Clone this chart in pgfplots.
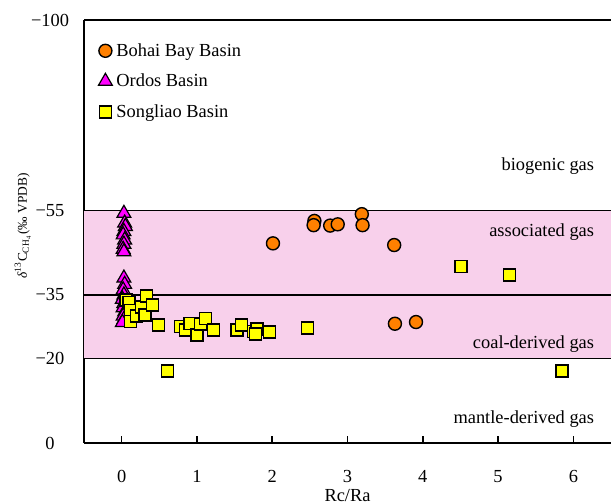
\documentclass[border=0pt]{standalone}
\usepackage{fontspec}
\setmainfont{Liberation Serif}
\usepackage{pgfplots}
\pgfplotsset{compat=1.18}
\definecolor{bandpink}{RGB}{248,208,235}
\definecolor{borange}{RGB}{255,128,0}
\definecolor{omag}{RGB}{255,0,255}
\definecolor{syellow}{RGB}{255,255,0}
\begin{document}
\begin{tikzpicture}[font=\fontsize{9.2}{11}\selectfont]
\begin{axis}[
  scale only axis, width=263.5pt, height=211.5pt,
  xmin=-0.5, xmax=6.5, ymin=-100, ymax=0, y dir=reverse,
  axis x line*=box, axis y line*=left,
  axis line style={line width=1pt},
  tick pos=left, tick align=inside, major tick length=3.5pt,
  tick style={line width=0.8pt, black},
  xtick={0,1,2,3,4,5,6},
  ytick={-100,-55,-35,-20,0},
  yticklabels={−100,−55,−35,−20,0},
  /pgf/number format/assume math mode=true,
  xticklabel style={yshift=-10pt},
  yticklabel style={anchor=center, xshift=-17pt},
  xlabel={Rc/Ra},
  xlabel style={at={(axis description cs:0.5,0)}, anchor=base, yshift=-29pt},
  ylabel={\fontsize{6.7}{8}\selectfont\textit{δ}\textsuperscript{13}C\textsubscript{CH\textsubscript{4}}(‰ VPDB)},
  ylabel style={at={(axis description cs:-0.116,0.513)}, anchor=center},
  legend image code/.code={\path[draw=none,fill=none] (0pt,0pt) rectangle (7.5pt,5pt);
    \draw[#1, overlay] plot coordinates {(3pt,0.3pt)};},
  legend style={draw=none, fill=none, inner sep=0pt, at={(axis description cs:0,1)}, anchor=north west, xshift=7.5pt, yshift=-10pt, row sep=4.25pt, nodes={inner sep=1pt, text height=7pt, text depth=2pt}},
  legend cell align=left,
]
\addplot[draw=none, fill=bandpink, forget plot] coordinates {(-0.5,-20) (6.5,-20) (6.5,-55) (-0.5,-55)} -- cycle;
\addplot[black, line width=0.6pt, forget plot] coordinates {(-0.5,-55) (6.5,-55)};
\addplot[black, line width=0.6pt, forget plot] coordinates {(-0.5,-35) (6.5,-35)};
\addplot[black, line width=0.6pt, forget plot] coordinates {(-0.5,-20) (6.5,-20)};

\addplot[only marks, mark=*, mark size=3.25pt, mark options={fill=borange, draw=black, line width=0.7pt}] coordinates {
(2.01,-47.2) (2.56,-52.5) (2.55,-51.5) (2.77,-51.4) (2.87,-51.7) (3.19,-54.1) (3.20,-51.5) (3.62,-46.8) (3.63,-28.2) (3.91,-28.6)
};
\addlegendentry{Bohai Bay Basin}

\addplot[only marks, mark=triangle*, mark size=4pt, mark options={fill=omag, draw=black, line width=0.6pt}] coordinates {
(0.03,-54.3) (0.04,-52.0) (0.05,-51.2) (0.03,-50.0) (0.02,-49.2) (0.04,-48.0) (0.03,-47.0) (0.02,-45.8) (0.03,-45.2)
(0.03,-39.0) (0.04,-37.5) (0.02,-36.2) (0.03,-35.0) (0.01,-34.0) (0.03,-33.0) (0.02,-32.0) (0.04,-31.0) (0.02,-30.0) (0.03,-29.2) (0.01,-28.5)
};
\addlegendentry{Ordos Basin}

\addplot[only marks, mark=square*, mark size=3pt, mark options={fill=syellow, draw=black, line width=0.7pt}] coordinates {
(0.06,-33.8) (0.10,-33.2) (0.12,-31.3) (0.12,-28.7) (0.20,-30.0) (0.26,-32.2) (0.31,-30.3) (0.33,-34.8) (0.41,-32.6) (0.49,-27.9)
(0.78,-27.5) (0.85,-26.7) (0.91,-28.3) (1.00,-25.5) (1.05,-28.1) (1.11,-29.5) (1.22,-26.7)
(1.53,-26.7) (1.59,-27.9) (1.75,-26.3) (1.80,-27.0) (1.78,-25.8) (1.96,-26.2) (2.47,-27.2)
(0.61,-17.0) (4.51,-41.7) (5.15,-39.7) (5.85,-17.0)
};
\addlegendentry{Songliao Basin}

\node[anchor=east, inner sep=0pt] at (axis cs:6.28,-65.5) {biogenic gas};
\node[anchor=east, inner sep=0pt] at (axis cs:6.28,-49.9) {associated gas};
\node[anchor=east, inner sep=0pt] at (axis cs:6.28,-23.4) {coal-derived gas};
\node[anchor=east, inner sep=0pt] at (axis cs:6.28,-5.7) {mantle-derived gas};
\end{axis}
\pgfresetboundingbox
\path[use as bounding box] ([shift={(-42pt,-30pt)}]current axis.south west) rectangle ([shift={(0pt,10pt)}]current axis.north east);
\end{tikzpicture}
\end{document}
